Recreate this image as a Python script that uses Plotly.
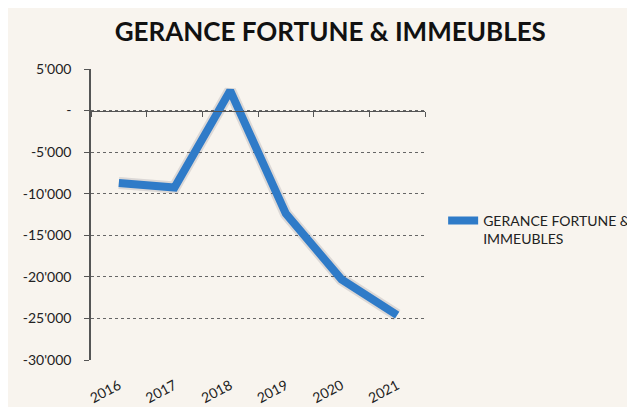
import plotly.graph_objects as go

annees = ["2016", "2017", "2018", "2019", "2020", "2021"]
resultat = [-8700, -9250, 2400, -12400, -20300, -24600]
serie = "GERANCE FORTUNE &<br>IMMEUBLES"

tick_vals = [5000, 0, -5000, -10000, -15000, -20000, -25000, -30000]
tick_text = ["5'000", "-", "-5'000", "-10'000", "-15'000", "-20'000", "-25'000", "-30'000"]

fond = "#f8f4ee"
bleu = "#2f7bc8"

fig = go.Figure()
# ombre sous la ligne
fig.add_trace(go.Scatter(x=annees, y=resultat, mode="lines",
                         line=dict(color="rgba(60,60,80,0.15)", width=12),
                         hoverinfo="skip", showlegend=False))
fig.add_trace(go.Scatter(x=annees, y=resultat, mode="lines", name=serie,
                         line=dict(color=bleu, width=8)))
# axe des x au niveau de zéro (graduations seulement)
fig.add_trace(go.Scatter(x=annees, y=resultat, xaxis="x2", mode="lines",
                         line=dict(width=0), hoverinfo="skip", showlegend=False))

# la page a une marge de 8px autour de la figure
fig.update_layout(
    width=627, height=399,
    paper_bgcolor=fond, plot_bgcolor=fond,
    margin=dict(l=83, r=210, t=61, b=47),
    title=dict(text="<b>GERANCE FORTUNE & IMMEUBLES</b>", x=0.514, xanchor="center",
               y=0.94, yanchor="middle",
               font=dict(family="Lato", size=26, color="#111111")),
    font=dict(family="Lato", color="#222222"),
    legend=dict(xref="container", yref="container", x=0.694, y=0.444,
                xanchor="left", yanchor="middle", valign="top",
                font=dict(size=14, color="#222222"), bgcolor="rgba(0,0,0,0)"),
    xaxis=dict(type="category", range=[-0.5, 5.5], showgrid=False, showline=False,
               ticks="", tickangle=-28, automargin=False, ticklabelstandoff=14,
               tickfont=dict(size=14, color="#222222")),
    xaxis2=dict(type="category", range=[-0.5, 5.5], overlaying="x", anchor="free",
                position=6 / 7, showline=True, linecolor="#555555", linewidth=1,
                ticks="outside", ticklen=5, tickcolor="#555555",
                tickson="boundaries", showticklabels=False, showgrid=False,
                automargin=False),
    yaxis=dict(range=[-30000, 5000], tickvals=tick_vals, ticktext=tick_text,
               showline=True, linecolor="#555555", linewidth=1.5,
               ticks="outside", ticklen=5, tickcolor="#555555", automargin=False,
               ticklabelstandoff=10,
               showgrid=True, gridcolor="#666666", gridwidth=1, griddash="dot",
               zeroline=False, tickfont=dict(size=14, color="#222222")),
)

fig.write_html("out.html")
